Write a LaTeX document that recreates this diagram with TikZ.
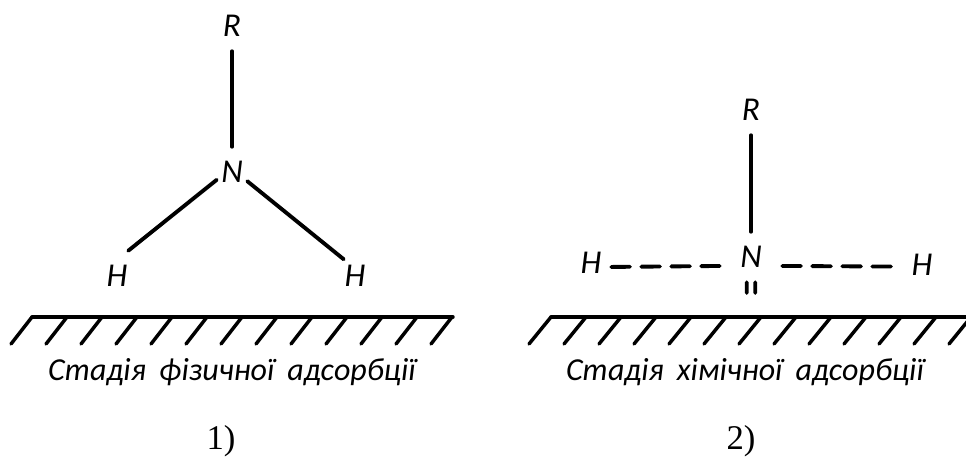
\documentclass[tikz,border=0pt]{standalone}
\usepackage{fontspec}
\setmainfont{Liberation Serif}
\newfontfamily\labelfont[WordSpace=1.8]{Carlito}
\usetikzlibrary{positioning}
\begin{document}
\begin{tikzpicture}[x=0.75pt,y=-0.75pt,
  atom/.style={inner sep=0pt,minimum width=22.5pt,minimum height=37.5pt,font=\labelfont\fontsize{25}{25}\selectfont\itshape},
  caption/.style={inner sep=0pt,font=\labelfont\fontsize{24}{24}\selectfont\itshape},
  number/.style={inner sep=0pt,font=\fontsize{26}{26}\selectfont},
  bond/.style={line width=2.9pt,line cap=round},
  surface/.style={line width=2.6pt,line cap=round,line join=round}]
\useasboundingbox (0,0) rectangle (966,457);
\clip (0,0) rectangle (966,457);
% stage 1
\node[atom] (r1) at (232,26) {R};
\node[atom] (n1) at (232,172) {N};
\node[atom] (h11) at (117,276) {H};
\node[atom,minimum width=16.5pt] (h12) at (355,276) {H};
\draw[bond] (r1)--(n1);
\draw[bond] (n1.207)--(h11.66);
\draw[bond] (n1.-31)--(h12.124.5);
\coordinate (g1a) at (32,317);
\coordinate (g1b) at (453,317);
\draw[surface] (g1a)--(g1b);
\foreach \i in {0,...,12} \draw[surface] ([xshift=26.25*\i]g1a)--++(-15.75pt,-20.25pt);
\node[caption] (c1) at (232,372) {Стадія фізичної адсорбції};
\node[number] (t1) at (221,441) {1)};
% stage 2
\node[atom] (r2) at (751,110) {R};
\node[atom,minimum width=46.5pt] (n2) at (751,257) {N};
\node[atom,minimum width=30pt] (h21) at (591,263) {H};
\node[atom,minimum width=43.5pt] (h22) at (922,265) {H};
\draw[bond] (r2)--(n2);
\draw[bond,dash pattern=on 14pt off 8.5pt] (h21.-11)--(n2.196);
\draw[bond,dash pattern=on 14pt off 8.5pt] (n2.-16)--(h22.183);
\coordinate (b2) at (751.5,293);
\draw[bond] ([xshift=-3.2pt]n2.south)--([xshift=-3.6pt]b2);
\draw[bond] ([xshift=3.2pt]n2.south)--([xshift=2.8pt]b2);
\coordinate (g2a) at (551,317);
\coordinate (g2b) at (966,317);
\draw[surface] (g2a)--(g2b);
\foreach \i in {0,...,12} \draw[surface] ([xshift=26.25*\i]g2a)--++(-16.5pt,-20.25pt);
\node[caption] (c2) at (745,372) {Стадія хімічної адсорбції};
\node[number] (t2) at (741,441) {2)};
\end{tikzpicture}
\end{document}
